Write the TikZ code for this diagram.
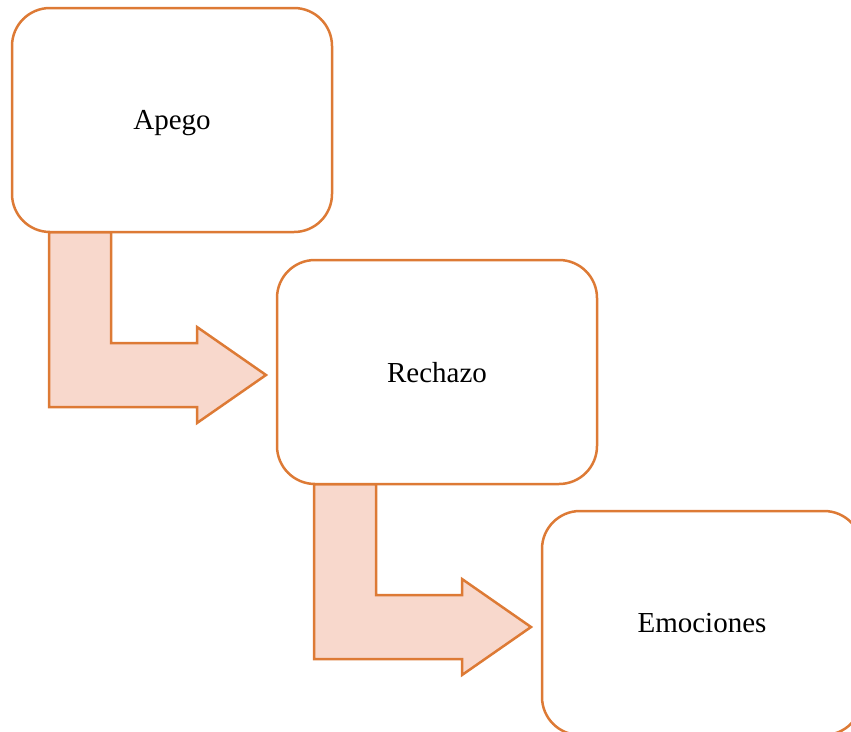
\documentclass[tikz,border=0pt]{standalone}
\usepackage{fontspec}
\setmainfont{Liberation Serif}
\definecolor{boxline}{HTML}{DD7A35}
\definecolor{arrowfill}{HTML}{F8D8CC}
\begin{document}
\begin{tikzpicture}[x=1pt,y=-1pt,
  card/.style={draw=boxline, line width=2.5pt, fill=white, rounded corners=38pt,
    minimum width=320pt, minimum height=224pt, inner sep=0pt, text depth=0pt,
    font=\fontsize{29}{35}\selectfont},
  bentarrow/.style={draw=boxline, line width=2.5pt, fill=arrowfill, line join=miter}]
\useasboundingbox (0,0) rectangle (851,731);
\begin{scope}
\clip (0,0) rectangle (851,731);
\draw[bentarrow] (49,232) -- (111,232) -- (111,343) -- (197,343) -- (197,327) -- (266,375)
  -- (197,423) -- (197,407) -- (49,407) -- cycle;
\draw[bentarrow] (314,484) -- (376,484) -- (376,595) -- (462,595) -- (462,579) -- (531,627)
  -- (462,675) -- (462,659) -- (314,659) -- cycle;
\node[card] (apego) at (172,120) {Apego};
\node[card] (rechazo) at (437,372) {Rechazo};
\node[card] (emociones) at (702,623) {Emociones};
\end{scope}
\end{tikzpicture}
\end{document}
